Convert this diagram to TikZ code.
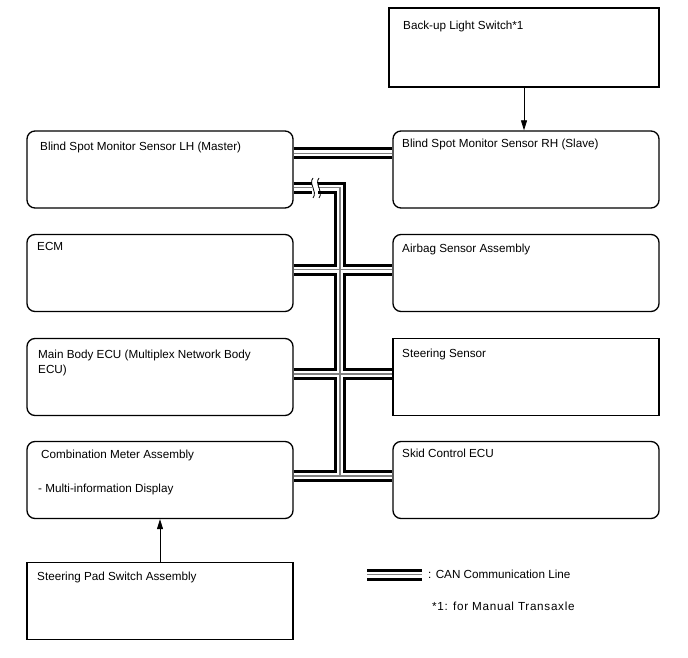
\documentclass[tikz,border=0pt]{standalone}
\usepackage{fontspec}
\setmainfont{Liberation Sans}
\usetikzlibrary{arrows.meta}
\begin{document}
\begin{tikzpicture}[x=1pt,y=-1pt,
  rbox/.style={draw=black,line width=1.3pt,rounded corners=8pt,minimum width=266pt,minimum height=77pt,inner sep=0pt},
  sbox/.style={draw=black,line width=1.3pt,minimum width=266pt,minimum height=77pt,inner sep=0pt},
  lbl/.style={anchor=base west,inner sep=0pt,font=\fontsize{11.7}{14}\selectfont},
  canblack/.style={line width=12pt,black,line join=miter},
  canwhite/.style={line width=6pt,white,line join=miter},
  cangray/.style={line width=1.3pt,black!50,line join=miter},
  arr/.style={line width=0.8pt,-{Triangle[length=10pt,width=6pt]}}
]
\useasboundingbox (0,0) rectangle (688,658);
% boxes
\node[sbox,minimum width=270pt,minimum height=79pt] (bu) at (524,47.5) {};
\node[rbox] (lh) at (160,169.5) {};
\node[rbox] (rh) at (526,169.5) {};
\node[rbox] (ecm) at (160,273) {};
\node[rbox] (air) at (526,273) {};
\node[rbox] (mb) at (160,377) {};
\node[sbox] (ss) at (526,377) {};
\node[rbox] (cm) at (160,480) {};
\node[rbox] (sk) at (526,480) {};
\node[sbox] (sp) at (160,601) {};
% labels
\node[lbl] (t1) at (403,29.5) {Back-up Light Switch*1};
\node[lbl] (t2) at (40,150.5) {Blind Spot Monitor Sensor LH (Master)};
\node[lbl] (t3) at (402,147.5) {Blind Spot Monitor Sensor RH (Slave)};
\node[lbl] (t4) at (37,250) {ECM};
\node[lbl] (t5) at (402,252) {Airbag Sensor Assembly};
\node[lbl] (t6) at (38,358) {Main Body ECU (Multiplex Network Body};
\node[lbl] (t6b) at (38,373) {ECU)};
\node[lbl] (t7) at (402,357) {Steering Sensor};
\node[lbl] (t8) at (41,458) {Combination Meter Assembly};
\node[lbl] (t8b) at (38,492) {- Multi-information Display};
\node[lbl] (t9) at (402,457) {Skid Control ECU};
\node[lbl] (t10) at (37,580) {Steering Pad Switch Assembly};
\node[lbl] (t11) at (428,578) {: CAN Communication Line};
\node[lbl] (t12) at (432,610) {\addfontfeature{LetterSpace=6}*1: for Manual Transaxle};
% arrows
\draw[arr] (bu.south) -- (rh.north -| bu.south);
\draw[arr] (sp.north) -- (cm.south);
% CAN bus coordinates
\coordinate (bx1) at (312,187.5);
\coordinate (bx2) at (318,187.5);
\coordinate (bc) at (340,187.5);
\coordinate (bb) at (340,476);
\coordinate (lg1) at (367,574.5);
\coordinate (lg2) at (422,574.5);
\foreach \s in {canblack,canwhite,cangray}{
  \draw[\s] (lh.east |- 0,153.5) -- (rh.west |- 0,153.5);
  \draw[\s] (lh.east |- bx1) -- (bx1);
  \draw[\s] (bx2) -- (bc) -- (bb);
  \draw[\s] (ecm.east |- 0,269.5) -- (air.west |- 0,269.5);
  \draw[\s] (mb.east |- 0,374) -- (ss.west |- 0,374);
  \draw[\s] (cm.east |- bb) -- (sk.west |- bb);
  \draw[\s] (lg1) -- (lg2);
}
% break marks
\draw[line width=0.8pt] (313,178) .. controls (308,184) and (318,191) .. (313,198);
\draw[line width=0.8pt] (319,178) .. controls (314,184) and (324,191) .. (319,198);
\end{tikzpicture}
\end{document}
